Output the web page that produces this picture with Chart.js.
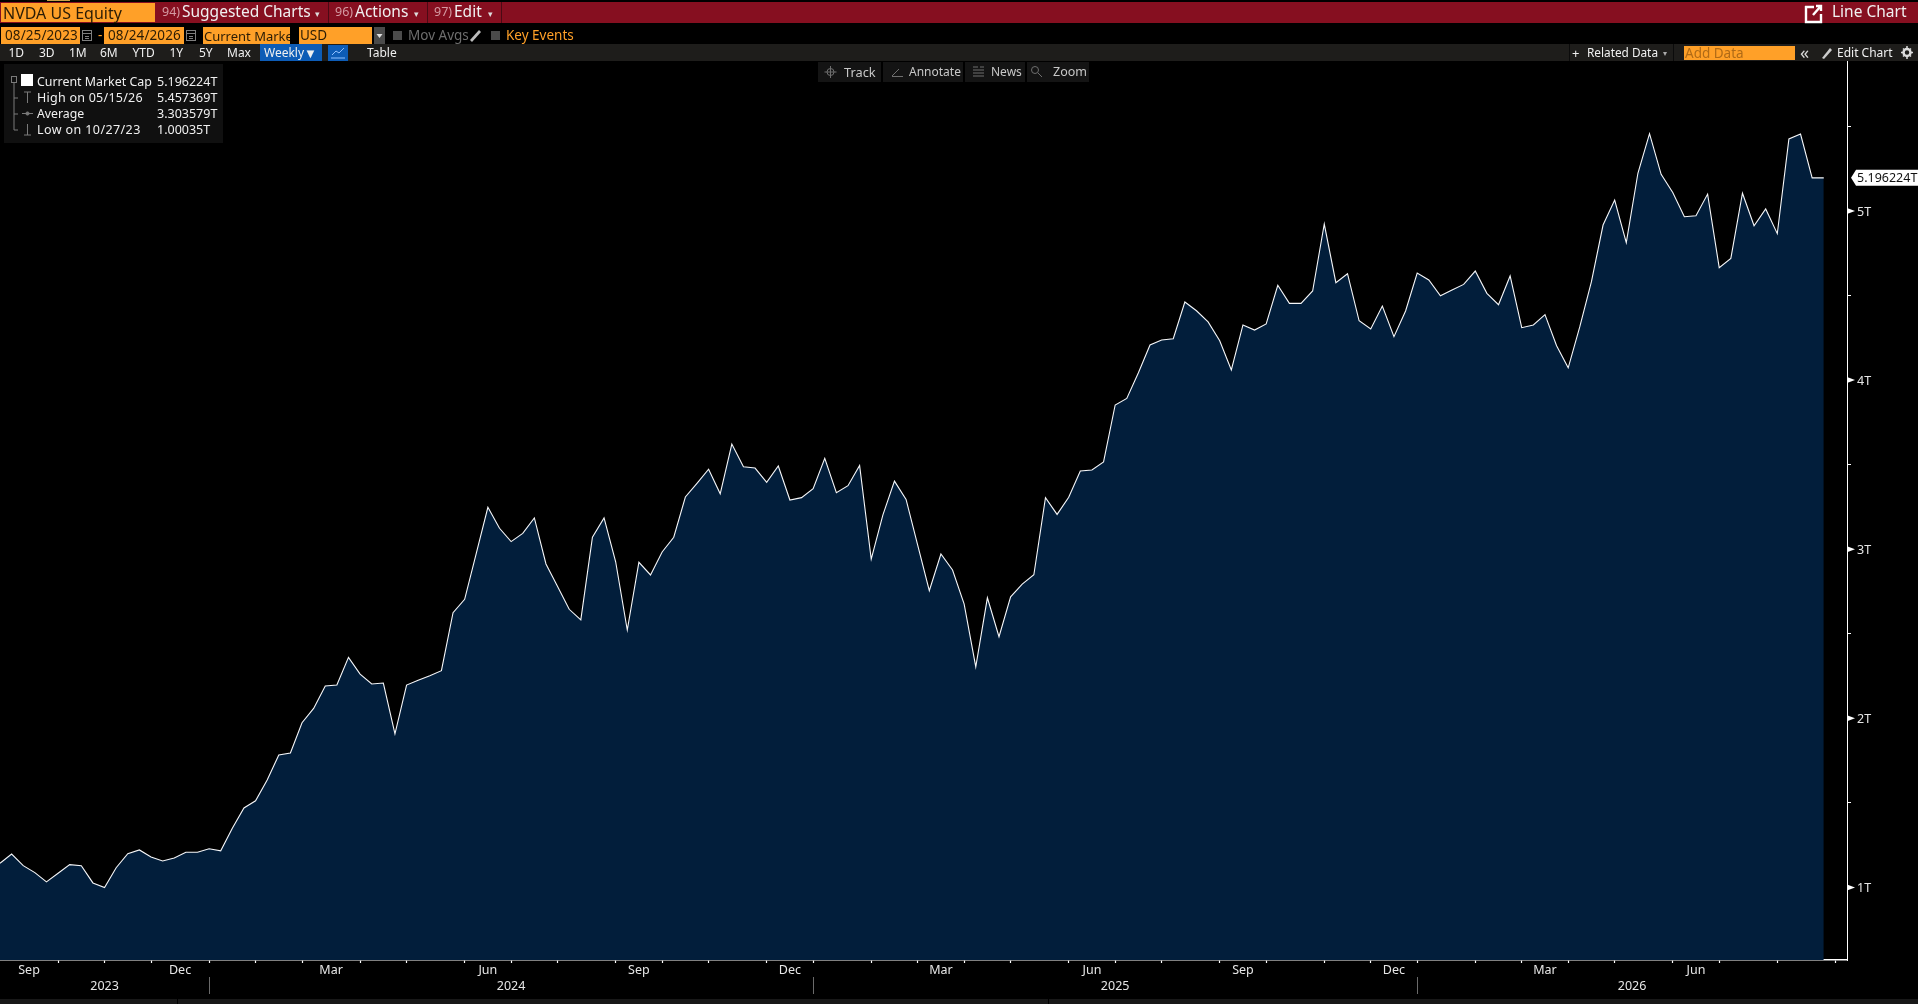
<!DOCTYPE html>
<html>
<head>
<meta charset="utf-8">
<title>NVDA US Equity</title>
<script src="https://cdn.jsdelivr.net/npm/chart.js@4"></script>
<style>
html,body{margin:0;padding:0;background:#000;width:1918px;height:1004px;overflow:hidden}
body{position:relative;font-family:"Noto Sans",sans-serif}
canvas{position:absolute;left:0;top:0}
.b{position:absolute}
.t{position:absolute;white-space:nowrap;line-height:1;transform:translateY(-50%)}
svg.i{position:absolute;overflow:visible}
</style>
</head>
<body>
<canvas id="c" width="1918" height="1004"></canvas>
<div id="ui"></div>
<script>
// Current market cap, trillions USD, one value per week
const marketCapT = [
1.143,1.198,1.129,1.088,1.033,1.084,1.135,1.129,1.027,1.000,
1.117,1.200,1.222,1.180,1.157,1.174,1.208,1.208,1.229,1.217,
1.350,1.470,1.513,1.636,1.783,1.795,1.974,2.059,2.191,2.197,
2.361,2.262,2.203,2.209,1.908,2.197,2.225,2.252,2.282,2.625,
2.704,2.976,3.248,3.124,3.045,3.094,3.185,2.913,2.779,2.645,
2.582,3.071,3.185,2.926,2.522,2.923,2.848,2.984,3.071,3.309,
3.390,3.473,3.328,3.622,3.488,3.480,3.396,3.492,3.291,3.305,
3.358,3.538,3.334,3.376,3.496,2.942,3.202,3.403,3.295,3.025,
2.755,2.972,2.877,2.676,2.305,2.713,2.483,2.719,2.794,2.849,
3.305,3.206,3.307,3.463,3.469,3.516,3.853,3.892,4.044,4.208,
4.237,4.245,4.462,4.410,4.344,4.233,4.060,4.326,4.296,4.332,
4.561,4.454,4.454,4.527,4.923,4.576,4.629,4.351,4.302,4.438,
4.257,4.409,4.633,4.592,4.499,4.533,4.566,4.645,4.513,4.446,
4.616,4.310,4.326,4.387,4.203,4.073,4.316,4.582,4.917,5.065,
4.813,5.223,5.457,5.217,5.110,4.966,4.972,5.100,4.665,4.720,
5.105,4.913,5.012,4.866,5.426,5.455,5.196,5.196];
const lastValueLabel = "5.196224T";
// x axis is one slot per week; two empty slots follow the data
const slotCount = 160;
const weekSlots = Array.from({length: slotCount}, (_, i) => String(i));
// slots that hold the last week of each month
const monthEndSlots = [5,9,13,18,22,26,31,35,40,44,48,53,57,61,66,70,75,79,83,87,92,96,100,105,109,114,118,122,127,131,135,139,144,148,153,158];
const monthLabels = ["Sep","Dec","Mar","Jun","Sep","Dec","Mar","Jun","Sep","Dec","Mar","Jun"];
const monthSlots = [2.5,15.5,28.5,42,55,68,81,94,107,120,133,146];
const yearLabels = ["2023","2024","2025","2026"];
const yearSlots = [9,44,96,140.5];
const yearEndSlots = [18,70,122];
const yTickValues = [1,1.5,2,2.5,3,3.5,4,4.5,5,5.5];

const FONT = '"Noto Sans", sans-serif';

const overlay = {
  id: "overlay",
  afterDraw(chart) {
    const c = chart.ctx, y = chart.scales.y, x3 = chart.scales.x3;
    c.save();
    // year separators
    c.strokeStyle = "#6a6a6a"; c.lineWidth = 1;
    yearEndSlots.forEach(s => {
      const px = Math.round(x3.getPixelForValue(s)) + .5;
      c.beginPath(); c.moveTo(px, 977); c.lineTo(px, 994); c.stroke();
    });
    // arrow marks on the whole-number ticks
    c.fillStyle = "#fff";
    yTickValues.filter(Number.isInteger).forEach(v => {
      const py = y.getPixelForValue(v), l = chart.chartArea.right;
      c.beginPath(); c.moveTo(l, py - 3); c.lineTo(l + 8, py); c.lineTo(l, py + 3); c.closePath(); c.fill();
    });
    // last value callout
    const lv = marketCapT[marketCapT.length - 1], py = y.getPixelForValue(lv), x0 = chart.chartArea.right + 4;
    c.fillStyle = "#fff";
    c.beginPath();
    c.moveTo(x0, py); c.lineTo(x0 + 5, py - 8); c.lineTo(1918, py - 8); c.lineTo(1918, py + 8); c.lineTo(x0 + 5, py + 8); c.closePath(); c.fill();
    c.fillStyle = "#111"; c.font = "12.5px " + FONT; c.textAlign = "left"; c.textBaseline = "middle";
    c.fillText(lastValueLabel, x0 + 6, py + .5);
    c.restore();
  }
};

new Chart(document.getElementById("c"), {
  type: "line",
  plugins: [overlay],
  data: {
    labels: weekSlots,
    datasets: [{
      data: marketCapT, xAxisID: "x", yAxisID: "y",
      borderColor: "#f6f7f9", borderWidth: 1.1, backgroundColor: "#021e3b",
      fill: "start", pointRadius: 0, tension: 0, borderJoinStyle: "miter", spanGaps: false
    }]
  },
  options: {
    responsive: false, animation: false, devicePixelRatio: 1,
    layout: {padding: {top: 61, left: 0, right: 0, bottom: 0}},
    plugins: {legend: {display: false}, tooltip: {enabled: false}, title: {display: false}},
    scales: {
      x: {
        type: "category", position: "bottom", weight: 0, offset: false,
        grid: {display: true, drawOnChartArea: false, drawTicks: true, tickLength: 3, tickWidth: 1.2, offset: false,
               tickColor: ctx => monthEndSlots.includes(ctx.index) ? "#fff" : "rgba(0,0,0,0)"},
        border: {display: true, color: "#fff", width: 1.6},
        ticks: {display: false, autoSkip: false, maxRotation: 0},
        afterFit(s) { s.height = 2; }
      },
      x2: {
        type: "linear", position: "bottom", weight: 1, min: 0, max: slotCount - 1,
        grid: {display: false, drawTicks: false}, border: {display: false},
        afterBuildTicks(s) { s.ticks = monthSlots.map(v => ({value: v})); },
        ticks: {autoSkip: false, maxRotation: 0, minRotation: 0, padding: 1, color: "#e6e6e6",
                font: {family: FONT, size: 12.5},
                callback: v => monthLabels[monthSlots.indexOf(v)]},
        afterFit(s) { s.height = 16; }
      },
      x3: {
        type: "linear", position: "bottom", weight: 2, min: 0, max: slotCount - 1,
        grid: {display: false, drawTicks: false}, border: {display: false},
        afterBuildTicks(s) { s.ticks = yearSlots.map(v => ({value: v})); },
        ticks: {autoSkip: false, maxRotation: 0, minRotation: 0, padding: 1, color: "#e6e6e6",
                font: {family: FONT, size: 12.5},
                callback: v => yearLabels[yearSlots.indexOf(v)]},
        afterFit(s) { s.height = 26; }
      },
      y: {
        type: "linear", position: "right", min: 0.5713, max: 5.8869,
        grid: {display: true, drawOnChartArea: false, drawTicks: true, tickLength: 4, tickWidth: 1,
               tickColor: ctx => Number.isInteger(ctx.tick.value) ? "rgba(0,0,0,0)" : "#fff"},
        border: {display: true, color: "#fff", width: 1},
        afterBuildTicks(s) { s.ticks = yTickValues.map(v => ({value: v})); },
        ticks: {autoSkip: false, padding: 6, labelOffset: 1, color: "#e6e6e6", font: {family: FONT, size: 12.5},
                callback: v => Number.isInteger(v) ? v + "T" : ""},
        afterFit(s) { s.width = 71; }
      }
    }
  }
});

// ---- terminal chrome around the chart ----
const ORANGE = "#ffa028", RED = "#860f20", BAR = "#1e1d1b", DIM = "#d49aa2";
const boxes = [ // x, y, w, h, colour
  [0,2,1918,21,RED], [47,0,23,1,"#c9a24a"],
  [1,3,154,19,ORANGE], [328,2,1,21,"#4a0a14"], [427,2,1,21,"#4a0a14"], [501,2,1,21,"#4a0a14"],
  [1,27,79,17,ORANGE], [104,27,80,17,ORANGE], [203,27,87,17,ORANGE], [299,27,73,17,ORANGE],
  [374,27,11,17,"#4a4a4a"], [393,31,9,9,"#4b4b4b"], [491,31,9,9,"#4b4b4b"],
  [0,44,1918,17,BAR], [260,44,62,17,"#0d5cb6"], [328,45,20,16,"#0d5cb6"],
  [1569,44,1,17,"#0b0b0b"], [1673,44,1,17,"#0b0b0b"], [1684,46,111,14,ORANGE],
  [818,62,63,20,"#141414"], [883,62,80,20,"#141414"], [965,62,60,20,"#141414"], [1027,62,62,20,"#141414"],
  [4,64,219,79,"#101010"],
  [0,999,1918,5,"#181818"], [177,999,1,5,"#000"], [1048,999,1,5,"#000"],
  [21,74,12,12,"#fff"]
];
const W = "#f0f0f0";
const texts = [ // label, x, y centre, size, colour, letter spacing
  ["NVDA US Equity",3,13,16,"#2b1c05"],
  ["94)",162,12,12.5,DIM],["Suggested Charts",182,12,15.5,W],["▾",315,13,9,"#ddd"],
  ["96)",335,12,12.5,DIM],["Actions",355,12,15.5,W],["▾",414,13,9,"#ddd"],
  ["97)",434,12,12.5,DIM],["Edit",454,12,15.5,W],["▾",488,13,9,"#ddd"],
  ["Line Chart",1832,12,15.5,W],
  ["08/25/2023",5,36,13.5,"#2b1c05",.1],["-",98,36,13.5,ORANGE],["08/24/2026",108,36,13.5,"#2b1c05",.1],
  ["USD",300,36,13.5,"#2b1c05"],["Mov Avgs",408,36,13.5,"#6d6d6d"],["Key Events",506,36,13.5,ORANGE],
  ["1D",8.5,53,12,W],["3D",39,53,12,W],["1M",69,53,12,W],["6M",100,53,12,W],["YTD",132.5,53,12,W],
  ["1Y",169.5,53,12,W],["5Y",199,53,12,W],["Max",227,53,12,W],["Weekly",264,53,12,W],["▼",304,53,13,W],["Table",367,53,12,W],
  ["+",1572,52.5,13,W],["Related Data",1587,53,11.8,W],["▾",1663,53,8,"#aaa"],
  ["Add Data",1685,53.5,13.5,"#b06a16"],["«",1800,51.5,18,"#d8d8d8"],["Edit Chart",1837,53,12,W],
  ["Track",844,71.5,12.8,"#c8c8c8"],["Annotate",909,72,12,"#c8c8c8"],["News",991,72,12,"#c8c8c8"],["Zoom",1053,72,12.5,"#c8c8c8"],
  ["Current Market Cap",37,82,12.4,W],["5.196224T",157,82,12.5,W],
  ["High on 05/15/26",37,98,12.5,W,.25],["5.457369T",157,98,12.5,W],
  ["Average",37,114,12.3,W],["3.303579T",157,114,12.5,W],
  ["Low on 10/27/23",37,130,12.5,W,.4],["1.00035T",157,130,12.5,W]
];
const ui = document.getElementById("ui");
boxes.forEach(([x,y,w,h,col]) => {
  const d = document.createElement("div"); d.className = "b";
  d.style.cssText = `left:${x}px;top:${y}px;width:${w}px;height:${h}px;background:${col}`;
  ui.appendChild(d);
});
// "Current Market" field is clipped by its box
const clip = document.createElement("div"); clip.className = "b";
clip.style.cssText = "left:203px;top:27px;width:87px;height:17px;overflow:hidden";
clip.innerHTML = '<span class="t" style="left:1px;top:8.500px;font-size:13px;color:#2b1c05">Current Market Cap</span>';
ui.appendChild(clip);
texts.forEach(([s,x,y,z,col,ls]) => {
  const d = document.createElement("span"); d.className = "t"; d.textContent = s;
  d.style.cssText = `left:${x}px;top:${y}px;font-size:${z}px;color:${col};letter-spacing:${ls||0}px`;
  ui.appendChild(d);
});
ui.insertAdjacentHTML("beforeend", `
<svg class="i" style="left:0;top:0" width="1918" height="1004" fill="none">
  <g stroke="#7f7f7f" stroke-width="1">
    <rect x="82.500" y="30.500" width="9" height="10"/><path d="M82.500 33.500h9M85 36.500h4M85 38.500h4"/>
    <rect x="186.500" y="30.500" width="9" height="10"/><path d="M186.500 33.500h9M189 36.500h4M189 38.500h4"/>
  </g>
  <g stroke="#7a7a7a" stroke-width="1">
    <rect x="11.500" y="76.500" width="5" height="6"/><path d="M14 83V130M14 98H18M14 114H18M14 130H18"/>
    <path d="M24 92H31M27.500 92V103M24 135H31M27.500 124V135M22 113.500H33"/>
    <circle cx="27.500" cy="113.500" r="1.600" fill="#7a7a7a"/>
  </g>
  <path d="M1805 7h9M1806 6v16h15v-8M1813 15l7-8M1816 6h5v5" stroke="#fff" stroke-width="2.400"/>
  <path d="M331 58h14M332 55l4-4 3 2 5-5" stroke="#8fc0ff" stroke-width="1"/>
  <path d="M470 40l9-10 2 2-9 10z" fill="#bbb"/>
  <path d="M1822 58l8-10 2 2-8 9z" fill="#ccc"/>
  <circle cx="1907" cy="52.500" r="3.500" stroke="#ddd" stroke-width="2.500"/>
  <path d="M1907 46v2M1907 57v2M1901 52.500h2M1911 52.500h2M1903 48.500l1 1M1910 55.500l1 1M1903 56.500l1-1M1910 49.500l1-1" stroke="#ddd" stroke-width="1.500"/>
  <g stroke="#6f6f6f" stroke-width="1">
    <circle cx="830.500" cy="72" r="3.500"/><path d="M830.500 66v12M824.500 72h12"/>
    <path d="M892 76l7-7M892 76.500h11"/>
    <path d="M973 67h5M973 70h11M973 73h11M973 76h11M980 67h4"/>
    <circle cx="1035" cy="70" r="3.500"/><path d="M1038 73l4 4"/>
  </g>
  <path d="M376.500 34l3 4 3-4z" fill="#ddd"/>
</svg>`);
</script>
</body>
</html>
